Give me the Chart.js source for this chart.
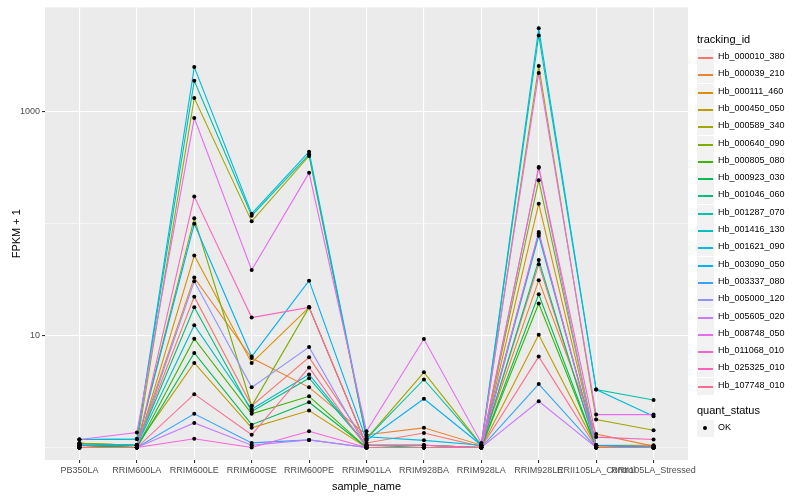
<!DOCTYPE html>
<html>
<head>
<meta charset="utf-8">
<script src="https://cdn.jsdelivr.net/npm/chart.js@4.4.0/dist/chart.umd.min.js"></script>
<style>
  html, body { margin: 0; padding: 0; background: #fff; }
  #wrap { position: relative; width: 800px; height: 500px; font-family: "Liberation Sans", Arial, sans-serif; }
  #chartCanvas { position: absolute; left: 0; top: 0; }
  .lg { position: absolute; left: 697px; color: #000; }
  .lg-title { font-size: 11px; }
  .lg-row { position: absolute; left: 0; height: 17px; width: 100px; }
  .lg-key { position: absolute; left: 0; top: 0; width: 17px; height: 17px; background: #F2F2F2; }
  .lg-line { position: absolute; left: 1px; top: 8px; width: 15px; height: 2px; }
  .lg-dot { position: absolute; left: 6px; top: 6px; width: 4px; height: 4px; border-radius: 2px; background: #000; }
  .lg-text { position: absolute; left: 21px; top: 2px; font-size: 9px; white-space: nowrap; }
</style>
</head>
<body>
<div id="wrap">
  <canvas id="chartCanvas" width="800" height="500"></canvas>
  <div class="lg" id="legend1" style="top:33px"></div>
  <div class="lg" id="legend2" style="top:404px"></div>
</div>
<script>
// ------- Data -------
const samples = ["PB350LA", "RRIM600LA", "RRIM600LE", "RRIM600SE", "RRIM600PE", "RRIM901LA",
                 "RRIM928BA", "RRIM928LA", "RRIM928LE", "RRII105LA_Control", "RRII105LA_Stressed"];

const trackingIds = ["Hb_000010_380", "Hb_000039_210", "Hb_000111_460", "Hb_000450_050", "Hb_000589_340",
                     "Hb_000640_090", "Hb_000805_080", "Hb_000923_030", "Hb_001046_060", "Hb_001287_070",
                     "Hb_001416_130", "Hb_001621_090", "Hb_003090_050", "Hb_003337_080", "Hb_005000_120",
                     "Hb_005605_020", "Hb_008748_050", "Hb_011068_010", "Hb_025325_010", "Hb_107748_010"];

const seriesColors = ["#F8766D", "#EA8331", "#D89000", "#C09B00", "#A3A500", "#7CAE00", "#39B600", "#00BB4E",
                      "#00BF7D", "#00C1A3", "#00BFC4", "#00BAE0", "#00B0F6", "#35A2FF", "#9590FF", "#C77CFF",
                      "#E76BF3", "#FA62DB", "#FF62BC", "#FF6C91"];

// FPKM + 1, one array per tracking_id, in sample order
const hb000010_380 = [1.0, 1.05, 22.3, 2.36, 6.4, 1.1, 1.35, 1.02, 43.4, 1.05, 1.05];
const hb000039_210 = [1.0, 1.05, 33, 6.3, 3.45, 1.3, 1.5, 1.05, 31.2, 1.32, 1.03];
const hb000111_460 = [1.05, 1.0, 52, 5.7, 17.9, 1.05, 1.05, 1.0, 151, 1.05, 1.02];
const hb000450_050 = [1.09, 1.05, 5.7, 1.5, 2.14, 1.0, 1.0, 1.0, 10.2, 1.02, 1.0];
const hb000589_340 = [1.09, 1.05, 1330, 105, 404, 1.2, 4.7, 1.05, 2565, 1.78, 1.43];
const hb000640_090 = [1.09, 1.05, 112, 2.35, 17.9, 1.05, 1.05, 1.0, 245, 1.05, 1.02];
const hb000805_080 = [1.05, 1.0, 9.4, 2.0, 2.87, 1.0, 1.0, 1.0, 19.4, 1.0, 1.0];
const hb000923_030 = [1.05, 1.0, 7.0, 1.6, 2.54, 1.0, 1.0, 1.0, 23.4, 1.0, 1.0];
const hb001046_060 = [1.05, 1.05, 17.9, 2.1, 4.17, 1.05, 1.0, 1.0, 47.4, 1.0, 1.0];
const hb001287_070 = [1.18, 1.19, 1897, 118, 417, 1.2, 4.06, 1.05, 4810, 3.3, 2.66];
const hb001416_130 = [1.05, 1.05, 12.4, 2.2, 4.5, 1.05, 1.05, 1.0, 78, 1.05, 1.02];
const hb001621_090 = [1.18, 1.19, 2512, 123, 441, 1.25, 1.16, 1.05, 5580, 3.3, 1.9];
const hb003090_050 = [1.05, 1.05, 100, 6.5, 31, 1.16, 2.73, 1.05, 82, 1.05, 1.0];
const hb003337_080 = [1.0, 1.0, 2.0, 1.1, 1.17, 1.0, 1.0, 1.0, 3.69, 1.0, 1.0];
const hb005000_120 = [1.0, 1.0, 30.6, 3.45, 7.9, 1.0, 1.0, 1.0, 316, 1.0, 1.0];
const hb005605_020 = [1.0, 1.0, 1.66, 1.05, 1.17, 1.0, 1.0, 1.0, 2.59, 1.0, 1.0];
const hb008748_050 = [1.18, 1.36, 879, 38.6, 285, 1.4, 9.34, 1.1, 2220, 1.97, 1.97];
const hb011068_010 = [1.0, 1.0, 1.2, 1.0, 1.4, 1.0, 1.0, 1.0, 84.5, 1.0, 1.0];
const hb025325_010 = [1.0, 1.0, 175, 14.5, 17.9, 1.05, 1.05, 1.0, 322, 1.24, 1.18];
const hb107748_010 = [1.0, 1.0, 3.0, 1.3, 5.2, 1.0, 1.0, 1.0, 6.5, 1.0, 1.0];

const seriesValues = [hb000010_380, hb000039_210, hb000111_460, hb000450_050, hb000589_340, hb000640_090,
                      hb000805_080, hb000923_030, hb001046_060, hb001287_070, hb001416_130, hb001621_090,
                      hb003090_050, hb003337_080, hb005000_120, hb005605_020, hb008748_050, hb011068_010,
                      hb025325_010, hb107748_010];

const yTicks = [1, 10, 100, 1000];
const yLabelled = [10, 1000];

// ------- Helpers -------
const FONT = "'Liberation Sans', Arial, sans-serif";

const panelBg = {
  id: "panelBg",
  beforeDraw(chart) {
    const { ctx, chartArea: a } = chart;
    ctx.save();
    ctx.fillStyle = "#EBEBEB";
    ctx.fillRect(a.left, a.top, a.right - a.left, a.bottom - a.top);
    ctx.restore();
  },
};

function toPoints(values) {
  return values.map((v, i) => ({ x: i, y: v }));
}

function buildDatasets() {
  const lines = seriesValues.map((vals, i) => ({
    type: "line",
    label: trackingIds[i],
    data: toPoints(vals),
    borderColor: seriesColors[i],
    borderWidth: 1.1,
    pointRadius: 0,
    fill: false,
    tension: 0,
    order: seriesValues.length - i,
  }));
  // all points in black on top (quant_status = OK)
  const pts = [];
  seriesValues.forEach((vals) => vals.forEach((v, i) => pts.push({ x: i, y: v })));
  lines.push({
    type: "scatter",
    label: "OK",
    data: pts,
    pointRadius: 2,
    pointBackgroundColor: "#000",
    pointBorderWidth: 0,
    order: -1,
  });
  return lines;
}

function buildLegend() {
  const l1 = document.getElementById("legend1");
  let html = '<div class="lg-title">tracking_id</div>';
  trackingIds.forEach((id, i) => {
    const top = Math.round(16 + i * 17.3);
    html += `<div class="lg-row" style="top:${top}px"><div class="lg-key"><div class="lg-line" style="background:${seriesColors[i]}"></div></div><div class="lg-text">${id}</div></div>`;
  });
  l1.innerHTML = html;
  const l2 = document.getElementById("legend2");
  l2.innerHTML = '<div class="lg-title">quant_status</div>' +
    '<div class="lg-row" style="top:16px"><div class="lg-key"><div class="lg-dot"></div></div><div class="lg-text">OK</div></div>';
}

// ------- Chart Rendering -------
function renderChart() {
  const ctx = document.getElementById("chartCanvas").getContext("2d");
  new Chart(ctx, {
    data: { datasets: buildDatasets() },
    plugins: [panelBg],
    options: {
      responsive: false,
      animation: false,
      layout: { padding: { left: 0, right: 112, top: 4, bottom: 0 } },
      plugins: {
        legend: { display: false },
        tooltip: { enabled: false },
      },
      scales: {
        x: {
          type: "linear",
          min: -0.6,
          max: samples.length - 1 + 0.6,
          afterBuildTicks: (axis) => { axis.ticks = samples.map((_, i) => ({ value: i })); },
          afterFit: (axis) => { axis.height = 40; },
          border: { display: false },
          grid: { color: "#FFFFFF", lineWidth: 1.1, tickLength: 3, tickColor: "#333333", drawOnChartArea: true },
          ticks: {
            autoSkip: false,
            maxRotation: 0,
            padding: 2,
            color: "#4D4D4D",
            font: { family: FONT, size: 9 },
            callback: (v) => samples[v],
          },
          title: { display: true, text: "sample_name", color: "#000", font: { family: FONT, size: 11 }, padding: { top: 2, bottom: 6 } },
        },
        y: {
          type: "logarithmic",
          min: 0.774,
          max: 8577,
          afterBuildTicks: (axis) => { axis.ticks = yTicks.map((v) => ({ value: v })); },
          afterFit: (axis) => { axis.width = 45; },
          border: { display: false },
          grid: {
            color: "#FFFFFF",
            lineWidth: (c) => (yLabelled.includes(c.tick && c.tick.value) ? 1.1 : 0.55),
            tickLength: 3,
            tickColor: (c) => (yLabelled.includes(c.tick && c.tick.value) ? "#333333" : "rgba(0,0,0,0)"),
          },
          ticks: {
            padding: 2,
            color: "#4D4D4D",
            font: { family: FONT, size: 9 },
            callback: (v) => (yLabelled.includes(v) ? String(v) : ""),
          },
          title: { display: true, text: "FPKM + 1", color: "#000", font: { family: FONT, size: 11 }, padding: { top: 10, bottom: 4 } },
        },
      },
    },
  });
}

buildLegend();
renderChart();
</script>
</body>
</html>
